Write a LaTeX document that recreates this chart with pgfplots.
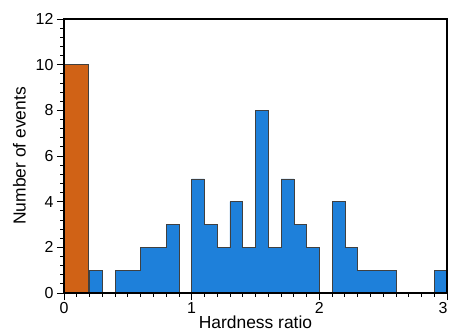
\documentclass[border=0pt]{standalone}
\usepackage{fontspec}
\setmainfont{Liberation Sans}
\usepackage{pgfplots}
\pgfplotsset{compat=1.18}
\definecolor{barblue}{RGB}{30,128,218}
\definecolor{barorange}{RGB}{208,98,22}
\begin{document}
\begin{tikzpicture}
\begin{axis}[
  scale only axis,
  width=383bp, height=274bp,
  xmin=0, xmax=3, ymin=0, ymax=12,
  xtick={0,1,2,3}, ytick={0,2,4,6,8,10,12},
  xticklabels={0,1,2,\hspace*{-8bp}3},
  minor x tick num=9, minor y tick num=4,
  tick align=outside,
  major tick length=7bp, minor tick length=3.5bp,
  tick style={black, line width=0.8pt},
  xtick pos=bottom, ytick pos=left,
  axis line style={black, line width=1.1pt},
  /pgf/number format/assume math mode=true,
  ticklabel style={font=\fontsize{16}{18}\selectfont},
  label style={font=\fontsize{17.5}{20}\selectfont},
  xlabel={Hardness ratio},
  ylabel={Number of events},
  xlabel style={yshift=5bp},
  ylabel style={yshift=3bp},
  xticklabel style={yshift=1bp},
  axis on top,
]
\coordinate (sw) at (rel axis cs:0,0);
\coordinate (ne) at (rel axis cs:1,1);
\addplot[const plot mark left, fill=barorange, draw=black!75, line width=0.6pt] coordinates {
(0,10) (0.19,10)
} \closedcycle;
\addplot[const plot mark left, fill=barblue, draw=black!75, line width=0.6pt] coordinates {
(0.2,1) (0.3,0) (0.4,1) (0.5,1) (0.6,2) (0.7,2) (0.8,3) (0.9,0)
(1.0,5) (1.1,3) (1.2,2) (1.3,4) (1.4,2) (1.5,8) (1.6,2) (1.7,5)
(1.8,3) (1.9,2) (2.0,0) (2.1,4) (2.2,2) (2.3,1) (2.4,1) (2.5,1)
(2.6,0) (2.7,0) (2.8,0) (2.9,1) (3.0,1)
} \closedcycle;
\end{axis}
\pgfresetboundingbox
\path ([shift={(-64bp,-40bp)}]sw) rectangle ([shift={(2bp,19bp)}]ne);
\end{tikzpicture}
\end{document}
